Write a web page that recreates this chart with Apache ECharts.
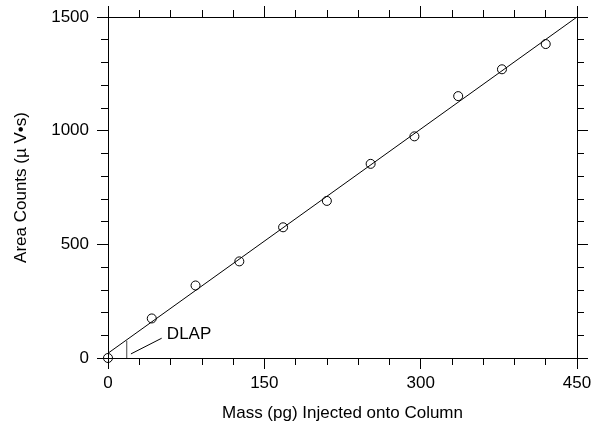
<!DOCTYPE html>
<html>
<head>
<meta charset="utf-8">
<script src="https://cdn.jsdelivr.net/npm/echarts@6/dist/echarts.min.js"></script>
<style>html,body{margin:0;padding:0;background:#fff;}#c{width:596px;height:430px;}</style>
</head>
<body>
<div id="c"></div>
<script>
// Data
var massPg = [0, 42, 84, 126, 168, 210, 252, 294, 336, 378, 420];
var areaCounts = [0, 174, 319, 425, 575, 691, 854, 975, 1152, 1270, 1381];
var fitX = [0, 450];
var fitY = [21, 1500];
var dlapX = [18, 18];
var dlapY = [0, 76];
var leaderX = [22, 51.5];
var leaderY = [18, 87];
var dlapLabelX = [56];
var dlapLabelY = [103];
var dlapText = 'DLAP';
var xTicks = [0, 150, 300, 450];
var yTicks = [0, 500, 1000, 1500];
var xTitle = 'Mass (pg) Injected onto Column';
var yTitle = 'Area Counts (\u00b5 V\u2022s)';

function pairs(xs, ys) { return xs.map(function (x, i) { return [x, ys[i]]; }); }

var FONT = 'Liberation Sans, Arial, sans-serif';
var FS = 17;

function axisCommon(showLabel) {
  return {
    axisLine: { show: true, onZero: false, lineStyle: { color: '#000', width: 1 } },
    axisTick: { show: true, inside: false, length: 11, lineStyle: { color: '#000', width: 1 } },
    minorTick: { show: true, splitNumber: 5, length: 7, lineStyle: { color: '#000', width: 1 } },
    splitLine: { show: false },
    minorSplitLine: { show: false },
    axisLabel: { show: showLabel, color: '#000', fontFamily: FONT, fontSize: FS,
                 formatter: function (v) { return String(v); } }
  };
}

var xb = axisCommon(true);
xb.type = 'value'; xb.position = 'bottom'; xb.min = xTicks[0]; xb.max = xTicks[xTicks.length - 1];
xb.interval = xTicks[1] - xTicks[0];
xb.axisLabel.margin = 17;
xb.name = xTitle; xb.nameLocation = 'middle'; xb.nameGap = 47;
xb.nameTextStyle = { color: '#000', fontFamily: FONT, fontSize: FS };

var xt = axisCommon(false);
xt.type = 'value'; xt.position = 'top'; xt.min = xb.min; xt.max = xb.max; xt.interval = xb.interval;

var yl = axisCommon(true);
yl.type = 'value'; yl.position = 'left'; yl.min = yTicks[0]; yl.max = yTicks[yTicks.length - 1];
yl.interval = yTicks[1] - yTicks[0];
yl.axisLabel.margin = 19;
yl.name = yTitle; yl.nameLocation = 'middle'; yl.nameGap = 78; yl.nameRotate = 90;
yl.nameTextStyle = { color: '#000', fontFamily: FONT, fontSize: FS };

var yr = axisCommon(false);
yr.type = 'value'; yr.position = 'right'; yr.min = yl.min; yr.max = yl.max; yr.interval = yl.interval;

var chart = echarts.init(document.getElementById('c'), null, { renderer: 'canvas' });
chart.setOption({
  animation: false,
  backgroundColor: '#fff',
  grid: { left: 108, right: 19, top: 17, bottom: 72, containLabel: false },
  xAxis: [xb, xt],
  yAxis: [yl, yr],
  series: [
    {
      type: 'line', xAxisIndex: 0, yAxisIndex: 0,
      data: pairs(fitX, fitY), showSymbol: false, symbol: 'none',
      lineStyle: { color: '#000', width: 1 }, silent: true, z: 2
    },
    {
      type: 'line', xAxisIndex: 0, yAxisIndex: 0,
      data: pairs(dlapX, dlapY), showSymbol: false, symbol: 'none',
      lineStyle: { color: '#444', width: 1 }, silent: true, z: 2
    },
    {
      type: 'line', xAxisIndex: 0, yAxisIndex: 0,
      data: pairs(leaderX, leaderY), showSymbol: false, symbol: 'none',
      lineStyle: { color: '#000', width: 1 }, silent: true, z: 2
    },
    {
      type: 'scatter', xAxisIndex: 0, yAxisIndex: 0,
      data: pairs(dlapLabelX, dlapLabelY), symbol: 'circle', symbolSize: 1,
      itemStyle: { color: 'rgba(0,0,0,0)', opacity: 1 },
      label: { show: true, position: 'right', distance: 0, formatter: dlapText,
               color: '#000', opacity: 1, textBorderWidth: 0, fontFamily: FONT, fontSize: FS },
      silent: true, z: 4
    },
    {
      type: 'scatter', xAxisIndex: 0, yAxisIndex: 0,
      data: pairs(massPg, areaCounts), symbol: 'circle', symbolSize: 9,
      itemStyle: { color: 'rgba(0,0,0,0)', borderColor: '#000', borderWidth: 1, opacity: 1 },
      clip: false, z: 3
    }
  ]
});
</script>
</body>
</html>
